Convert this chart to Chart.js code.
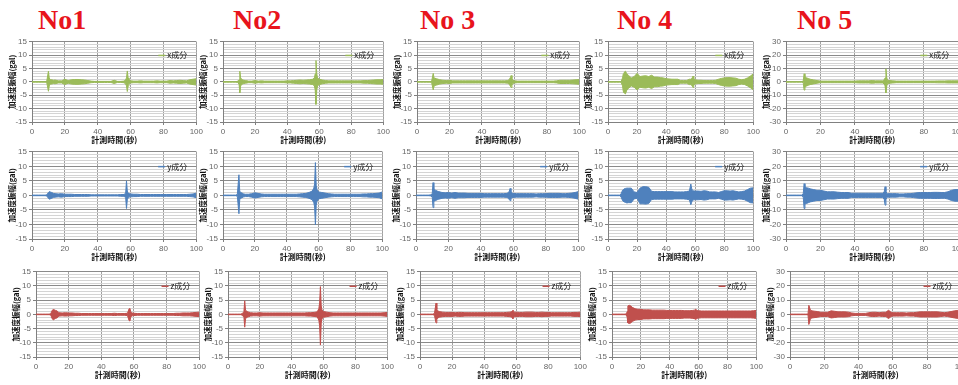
<!DOCTYPE html>
<html>
<head>
<meta charset="utf-8">
<script src="https://cdn.jsdelivr.net/npm/chart.js@4.4.1/dist/chart.umd.min.js"></script>
<style>
  body { margin: 0; background: #fff; width: 958px; height: 385px; overflow: hidden; position: relative; }
  .ttl { position: absolute; top: 4px; font: bold 28px "Liberation Serif", serif; color: #e8141c; white-space: pre; }
  canvas { position: absolute; }
</style>
</head>
<body>
<div class="ttl" style="left:38px">No1</div>
<div class="ttl" style="left:233px">No2</div>
<div class="ttl" style="left:420px">No 3</div>
<div class="ttl" style="left:617px">No 4</div>
<div class="ttl" style="left:797px">No 5</div>
<script>
// time points (s) at which the envelope of each record was read
const T = [0,2,4,6,8, 9,10,10.5,11,12,13,14,
  16,18,20,22,24,26,28,30,32,34,36,38,40,42,44,46,48,50,52,54,56,
  57,57.5,58,58.5,59,
  60,62,64,66,68,70,72,74,76,78,80,82,84,86,88,90,92,94,96,98,100];

// upper / lower envelope of each waveform (gal)
const no1x_top = [0.1,0.1,0.1,0.1,0.1, 0.3,4.0,1.5,0.8,0.8,0.6,0.7,
  0.4,0.4,1.0,0.5,0.8,0.9,0.9,0.8,0.7,0.5,0.3,0.2,0.2,0.2,0.2,0.2,0.2,0.6,0.2,0.2,0.3,
  0.8,1.5,4.1,1.5,0.6,
  0.4,0.3,0.3,0.4,0.3,0.3,0.3,0.3,0.4,0.3,0.3,0.3,0.5,0.4,0.5,0.6,0.5,0.4,0.8,1.0,1.2];
const no1x_bot = [-0.1,-0.1,-0.1,-0.1,-0.1, -0.3,-3.5,-1.5,-0.8,-0.8,-0.6,-0.7,
  -0.4,-0.4,-1.0,-0.5,-0.8,-0.9,-0.9,-0.8,-0.7,-0.5,-0.3,-0.2,-0.2,-0.2,-0.2,-0.2,-0.2,-0.6,-0.2,-0.2,-0.3,
  -0.8,-1.5,-3.6,-1.5,-0.6,
  -0.4,-0.3,-0.3,-0.4,-0.3,-0.3,-0.3,-0.3,-0.4,-0.3,-0.3,-0.3,-0.5,-0.4,-0.5,-0.6,-0.5,-0.4,-0.8,-1.0,-1.2];

const no1y_top = [0.1,0.1,0.1,0.1,0.1, 0.2,1.0,1.3,1.2,1.0,0.7,0.6,
  0.5,0.6,0.4,0.4,0.4,0.3,0.3,0.3,0.3,0.3,0.2,0.2,0.2,0.2,0.2,0.2,0.2,0.2,0.2,0.3,0.3,
  0.8,5.0,1.5,0.8,0.5,
  0.5,0.4,0.4,0.3,0.3,0.3,0.3,0.3,0.3,0.3,0.3,0.3,0.3,0.3,0.3,0.3,0.3,0.3,0.4,0.5,0.8];
const no1y_bot = [-0.1,-0.1,-0.1,-0.1,-0.1, -0.2,-1.0,-1.3,-1.2,-1.0,-0.7,-0.6,
  -0.5,-0.6,-0.4,-0.4,-0.4,-0.3,-0.3,-0.3,-0.3,-0.3,-0.2,-0.2,-0.2,-0.2,-0.2,-0.2,-0.2,-0.2,-0.2,-0.3,-0.3,
  -0.8,-4.5,-1.5,-0.8,-0.5,
  -0.5,-0.4,-0.4,-0.3,-0.3,-0.3,-0.3,-0.3,-0.3,-0.3,-0.3,-0.3,-0.3,-0.3,-0.3,-0.3,-0.3,-0.3,-0.4,-0.5,-0.8];

const no1z_top = [0.1,0.1,0.1,0.1,0.1, 0.2,1.5,1.7,1.6,1.4,1.2,0.6,
  0.5,0.6,0.5,0.5,0.4,0.4,0.3,0.3,0.3,0.3,0.3,0.3,0.3,0.3,0.3,0.3,0.4,0.3,0.3,0.3,0.4,
  2.0,2.1,1.0,0.6,0.5,
  0.4,0.3,0.3,0.3,0.3,0.3,0.3,0.3,0.3,0.3,0.3,0.3,0.3,0.4,0.4,0.5,0.5,0.5,0.6,0.7,0.8];
const no1z_bot = [-0.1,-0.1,-0.1,-0.1,-0.1, -0.2,-1.6,-1.9,-1.7,-1.4,-1.2,-0.6,
  -0.5,-0.6,-0.5,-0.5,-0.4,-0.4,-0.3,-0.3,-0.3,-0.3,-0.3,-0.3,-0.3,-0.3,-0.3,-0.3,-0.4,-0.3,-0.3,-0.3,-0.4,
  -2.2,-2.3,-1.0,-0.6,-0.5,
  -0.4,-0.3,-0.3,-0.3,-0.3,-0.3,-0.3,-0.3,-0.3,-0.3,-0.3,-0.3,-0.3,-0.4,-0.4,-0.5,-0.5,-0.5,-0.6,-0.7,-0.8];

const no2x_top = [0.1,0.1,0.1,0.1,0.1, 0.2,0.8,4.0,1.5,0.8,0.6,0.5,
  0.3,0.3,0.5,0.3,0.4,0.3,0.3,0.3,0.3,0.3,0.3,0.3,0.4,0.4,0.5,0.6,0.7,0.6,0.7,0.8,1.0,
  1.5,3.0,8.0,3.0,1.5,
  1.0,0.7,0.5,0.4,0.4,0.4,0.4,0.4,0.4,0.4,0.4,0.4,0.4,0.4,0.5,0.5,0.6,0.7,0.8,0.8,0.9];
const no2x_bot = [-0.1,-0.1,-0.1,-0.1,-0.1, -0.2,-0.8,-4.1,-1.5,-0.8,-0.6,-0.5,
  -0.3,-0.3,-0.5,-0.3,-0.4,-0.3,-0.3,-0.3,-0.3,-0.3,-0.3,-0.3,-0.4,-0.4,-0.5,-0.6,-0.7,-0.6,-0.7,-0.8,-1.0,
  -1.5,-3.0,-8.4,-3.0,-1.5,
  -1.0,-0.7,-0.5,-0.4,-0.4,-0.4,-0.4,-0.4,-0.4,-0.4,-0.4,-0.4,-0.4,-0.4,-0.5,-0.5,-0.6,-0.7,-0.8,-0.8,-0.9];

const no2y_top = [0.1,0.1,0.1,0.1,0.1, 0.3,7.1,1.5,1.0,0.8,0.5,0.4,
  0.4,0.6,0.9,0.7,0.5,0.4,0.4,0.4,0.4,0.4,0.4,0.4,0.4,0.4,0.4,0.4,0.5,0.6,0.7,1.0,1.5,
  2.5,4.0,11.3,3.5,2.0,
  1.2,1.0,0.8,0.6,0.5,0.4,0.4,0.4,0.4,0.4,0.4,0.4,0.4,0.4,0.5,0.5,0.6,0.6,0.7,0.8,1.2];
const no2y_bot = [-0.1,-0.1,-0.1,-0.1,-0.1, -0.3,-6.3,-1.5,-1.0,-0.8,-0.5,-0.4,
  -0.4,-0.6,-0.9,-0.7,-0.5,-0.4,-0.4,-0.4,-0.4,-0.4,-0.4,-0.4,-0.4,-0.4,-0.4,-0.4,-0.5,-0.6,-0.7,-1.0,-1.5,
  -2.5,-4.0,-10.1,-3.5,-2.0,
  -1.2,-1.0,-0.8,-0.6,-0.5,-0.4,-0.4,-0.4,-0.4,-0.4,-0.4,-0.4,-0.4,-0.4,-0.5,-0.5,-0.6,-0.6,-0.7,-0.8,-1.2];

const no2z_top = [0.1,0.1,0.1,0.1,0.1, 0.3,1.0,4.8,1.5,1.0,0.8,0.6,
  0.5,0.5,0.6,0.5,0.5,0.5,0.5,0.5,0.5,0.5,0.5,0.5,0.5,0.5,0.5,0.5,0.5,0.6,0.6,0.7,0.9,
  2.0,4.0,9.8,3.0,1.5,
  1.0,0.8,0.6,0.5,0.5,0.5,0.5,0.5,0.5,0.5,0.5,0.5,0.5,0.5,0.5,0.5,0.5,0.5,0.5,0.6,0.7];
const no2z_bot = [-0.1,-0.1,-0.1,-0.1,-0.1, -0.3,-1.0,-4.5,-1.5,-1.0,-0.8,-0.6,
  -0.5,-0.5,-0.6,-0.5,-0.5,-0.5,-0.5,-0.5,-0.5,-0.5,-0.5,-0.5,-0.5,-0.5,-0.5,-0.5,-0.5,-0.6,-0.6,-0.7,-0.9,
  -2.0,-4.0,-10.8,-3.0,-1.5,
  -1.0,-0.8,-0.6,-0.5,-0.5,-0.5,-0.5,-0.5,-0.5,-0.5,-0.5,-0.5,-0.5,-0.5,-0.5,-0.5,-0.5,-0.5,-0.5,-0.6,-0.7];

const no3x_top = [0.1,0.1,0.1,0.1,0.1, 0.2,3.2,1.5,1.3,1.2,1.0,0.8,
  0.6,0.5,0.6,0.4,0.4,0.4,0.4,0.4,0.4,0.4,0.4,0.4,0.4,0.4,0.4,0.4,0.4,0.4,0.4,0.4,0.5,
  1.0,1.6,2.4,1.2,0.6,
  0.4,0.3,0.3,0.3,0.3,0.3,0.3,0.3,0.3,0.3,0.3,0.3,0.3,0.4,0.6,0.6,0.6,0.6,0.7,0.8,0.9];
const no3x_bot = [-0.1,-0.1,-0.1,-0.1,-0.1, -0.2,-3.0,-1.5,-1.3,-1.2,-1.0,-0.8,
  -0.6,-0.5,-0.6,-0.4,-0.4,-0.4,-0.4,-0.4,-0.4,-0.4,-0.4,-0.4,-0.4,-0.4,-0.4,-0.4,-0.4,-0.4,-0.4,-0.4,-0.5,
  -1.0,-1.6,-2.1,-1.2,-0.6,
  -0.4,-0.3,-0.3,-0.3,-0.3,-0.3,-0.3,-0.3,-0.3,-0.3,-0.3,-0.3,-0.3,-0.4,-0.6,-0.6,-0.6,-0.6,-0.7,-0.8,-0.9];

const no3y_top = [0.1,0.1,0.1,0.1,0.1, 0.2,0.5,4.4,2.0,1.8,1.5,1.3,
  1.0,0.9,1.0,0.8,1.0,0.8,0.8,0.8,0.7,0.7,0.7,0.7,0.7,0.6,0.6,0.6,0.6,0.6,0.6,0.6,0.7,
  1.0,1.5,2.4,1.2,0.8,
  0.7,0.6,0.6,0.6,0.6,0.6,0.6,0.5,0.6,0.6,0.6,0.7,0.7,0.7,0.7,0.6,0.6,0.7,0.8,1.0,1.3];
const no3y_bot = [-0.1,-0.1,-0.1,-0.1,-0.1, -0.2,-0.5,-4.2,-2.0,-1.8,-1.5,-1.3,
  -1.0,-0.9,-1.0,-0.8,-1.0,-0.8,-0.8,-0.8,-0.7,-0.7,-0.7,-0.7,-0.7,-0.6,-0.6,-0.6,-0.6,-0.6,-0.6,-0.6,-0.7,
  -1.0,-1.5,-1.8,-1.2,-0.8,
  -0.7,-0.6,-0.6,-0.6,-0.6,-0.6,-0.6,-0.5,-0.6,-0.6,-0.6,-0.7,-0.7,-0.7,-0.7,-0.6,-0.6,-0.7,-0.8,-1.0,-1.3];

const no3z_top = [0.1,0.1,0.1,0.1,0.1, 0.3,4.0,1.8,1.3,1.0,0.9,0.8,
  0.7,0.7,0.7,0.6,0.7,0.7,0.6,0.6,0.6,0.6,0.6,0.6,0.6,0.6,0.6,0.6,0.6,0.6,0.6,0.7,0.8,
  0.9,1.2,1.5,1.0,0.8,
  0.8,0.7,0.7,0.8,0.8,0.8,0.7,0.7,0.8,0.7,0.7,0.6,0.6,0.6,0.6,0.6,0.6,0.6,0.7,0.7,0.8];
const no3z_bot = [-0.1,-0.1,-0.1,-0.1,-0.1, -0.3,-3.0,-1.8,-1.3,-1.0,-0.9,-0.8,
  -0.7,-0.7,-0.7,-0.6,-0.7,-0.7,-0.6,-0.6,-0.6,-0.6,-0.6,-0.6,-0.6,-0.6,-0.6,-0.6,-0.6,-0.6,-0.6,-0.7,-0.8,
  -0.9,-1.2,-1.5,-1.0,-0.8,
  -0.8,-0.7,-0.7,-0.8,-0.8,-0.8,-0.7,-0.7,-0.8,-0.7,-0.7,-0.6,-0.6,-0.6,-0.6,-0.6,-0.6,-0.6,-0.7,-0.7,-0.8];

const no4x_top = [0.1,0.1,0.1,0.1,0.1, 0.1,1.5,3.0,3.5,4.0,3.0,2.5,
  1.5,2.0,3.2,2.0,2.2,2.3,2.0,2.5,1.8,1.8,1.6,1.5,1.2,1.1,1.0,1.0,1.0,0.5,0.5,0.5,1.0,
  1.0,1.2,1.6,2.2,1.4,
  0.8,0.6,0.6,0.5,0.5,0.5,0.5,0.6,1.0,1.3,1.5,1.6,1.6,1.5,1.4,1.0,0.8,1.0,1.5,2.2,3.0];
const no4x_bot = [-0.1,-0.1,-0.1,-0.1,-0.1, -0.1,-1.5,-3.5,-4.0,-4.5,-3.0,-2.5,
  -1.5,-2.0,-3.0,-2.0,-2.2,-2.3,-2.0,-2.5,-1.8,-1.8,-1.6,-1.5,-1.2,-1.1,-1.0,-1.0,-1.0,-0.5,-0.5,-0.5,-1.0,
  -1.0,-1.2,-1.6,-2.1,-1.4,
  -0.8,-0.6,-0.6,-0.5,-0.5,-0.5,-0.5,-0.6,-1.0,-1.3,-1.5,-1.6,-1.6,-1.5,-1.4,-1.0,-0.8,-1.0,-1.5,-2.2,-3.0];

const no4y_top = [0.1,0.1,0.1,0.1,0.1, 0.5,1.8,2.0,2.2,2.4,2.5,2.5,
  2.5,1.2,1.0,2.5,3.0,3.0,2.8,1.4,1.3,1.3,1.3,1.3,1.3,1.3,1.3,1.2,1.2,1.2,1.2,1.3,1.5,
  3.9,2.5,1.8,1.6,1.5,
  1.5,1.5,1.4,1.6,1.5,1.2,1.2,1.2,1.0,1.3,1.6,1.6,1.5,1.6,1.4,1.2,1.3,1.5,2.0,2.5,2.6];
const no4y_bot = [-0.1,-0.1,-0.1,-0.1,-0.1, -0.5,-1.8,-2.0,-2.2,-2.4,-2.6,-2.5,
  -2.5,-1.2,-1.0,-2.9,-2.9,-3.0,-2.8,-1.4,-1.3,-1.3,-1.3,-1.3,-1.3,-1.3,-1.3,-1.2,-1.2,-1.2,-1.2,-1.3,-1.5,
  -3.2,-2.5,-1.8,-1.6,-1.5,
  -1.5,-1.5,-1.4,-1.6,-1.5,-1.2,-1.2,-1.2,-1.0,-1.3,-1.6,-1.6,-1.5,-1.6,-1.4,-1.2,-1.3,-1.5,-2.0,-2.5,-2.6];

const no4z_top = [0.1,0.1,0.1,0.1,0.1, 0.1,0.2,1.0,3.0,3.2,3.0,2.5,
  2.0,1.8,1.8,1.6,1.6,1.6,1.5,1.5,1.5,1.5,1.5,1.4,1.4,1.4,1.4,1.4,1.4,1.3,1.3,1.3,1.4,
  1.5,1.6,1.8,1.6,1.4,
  1.3,1.2,1.2,1.2,1.2,1.2,1.2,1.2,1.2,1.2,1.2,1.2,1.2,1.2,1.2,1.2,1.2,1.2,1.2,1.3,1.4];
const no4z_bot = [-0.1,-0.1,-0.1,-0.1,-0.1, -0.1,-0.2,-1.0,-3.0,-3.2,-3.0,-2.5,
  -2.0,-1.8,-1.8,-1.6,-1.6,-1.6,-1.5,-1.5,-1.5,-1.5,-1.5,-1.4,-1.4,-1.4,-1.4,-1.4,-1.4,-1.3,-1.3,-1.3,-1.4,
  -1.5,-1.6,-1.8,-1.6,-1.4,
  -1.3,-1.2,-1.2,-1.2,-1.2,-1.2,-1.2,-1.2,-1.2,-1.2,-1.2,-1.2,-1.2,-1.2,-1.2,-1.2,-1.2,-1.2,-1.2,-1.3,-1.4];

const no5x_top = [0.2,0.2,0.2,0.2,0.2, 0.2,0.5,6.1,4.0,3.0,2.5,2.0,
  1.5,1.0,0.6,0.6,0.6,0.6,0.6,0.6,0.6,0.6,0.6,0.6,0.6,0.8,0.8,0.8,0.8,1.0,0.8,0.8,0.8,
  1.5,3.0,9.8,3.0,1.2,
  1.0,0.8,0.6,0.6,0.6,0.6,0.6,0.6,0.6,0.6,0.6,0.6,0.6,0.6,0.7,0.7,0.7,0.8,0.8,0.8,0.8];
const no5x_bot = [-0.2,-0.2,-0.2,-0.2,-0.2, -0.2,-0.5,-6.1,-4.0,-3.0,-2.5,-2.0,
  -1.5,-1.0,-0.6,-0.6,-0.6,-0.6,-0.6,-0.6,-0.6,-0.6,-0.6,-0.6,-0.6,-0.8,-0.8,-0.8,-0.8,-1.0,-0.8,-0.8,-0.8,
  -1.5,-3.0,-8.3,-3.0,-1.2,
  -1.0,-0.8,-0.6,-0.6,-0.6,-0.6,-0.6,-0.6,-0.6,-0.6,-0.6,-0.6,-0.6,-0.6,-0.7,-0.7,-0.7,-0.8,-0.8,-0.8,-0.8];

const no5y_top = [0.2,0.2,0.2,0.2,0.2, 0.2,1.0,8.1,6.0,5.2,5.0,4.5,
  4.0,3.5,3.5,3.0,2.5,2.5,2.5,2.2,2.0,2.0,2.0,1.5,1.5,1.5,1.5,1.5,1.5,1.5,1.5,1.5,1.5,
  2.5,6.0,3.0,1.5,1.2,
  1.2,1.2,1.2,1.0,1.0,1.2,1.2,1.5,1.8,2.0,2.0,2.0,2.0,2.1,2.1,2.0,2.0,2.5,3.5,4.0,4.0];
const no5y_bot = [-0.2,-0.2,-0.2,-0.2,-0.2, -0.2,-1.0,-9.0,-6.0,-5.5,-5.0,-4.5,
  -4.0,-3.5,-3.5,-3.0,-2.5,-2.5,-2.5,-2.2,-2.0,-2.0,-2.0,-1.5,-1.5,-1.5,-1.5,-1.5,-1.5,-1.5,-1.5,-1.5,-1.5,
  -2.5,-6.7,-3.0,-1.5,-1.2,
  -1.2,-1.2,-1.2,-1.0,-1.0,-1.2,-1.2,-1.5,-1.8,-2.0,-2.0,-2.0,-2.0,-2.1,-2.1,-2.0,-2.0,-2.5,-3.5,-4.0,-4.0];

const no5z_top = [0.2,0.2,0.2,0.2,0.2, 0.2,0.2,0.3,6.4,2.8,2.5,2.3,
  2.0,1.5,1.5,1.5,2.5,2.2,1.8,1.8,1.8,1.6,1.0,0.7,0.7,0.7,0.7,1.2,1.5,1.5,1.2,1.5,1.5,
  2.5,2.9,2.5,2.0,1.5,
  1.2,1.2,1.2,1.2,1.0,1.2,1.2,1.5,1.8,1.8,1.8,1.8,1.8,1.8,1.5,1.2,1.5,2.0,2.5,2.8,3.0];
const no5z_bot = [-0.2,-0.2,-0.2,-0.2,-0.2, -0.2,-0.2,-0.3,-7.1,-2.8,-2.5,-2.3,
  -2.0,-1.5,-1.5,-1.5,-2.5,-2.2,-1.8,-1.8,-1.8,-1.6,-1.0,-0.7,-0.7,-0.7,-0.7,-1.2,-1.5,-1.5,-1.2,-1.5,-1.5,
  -2.5,-2.9,-2.5,-2.0,-1.5,
  -1.2,-1.2,-1.2,-1.2,-1.0,-1.2,-1.2,-1.5,-1.8,-1.8,-1.8,-1.8,-1.8,-1.8,-1.5,-1.2,-1.5,-2.0,-2.5,-2.8,-3.0];

const compNames = ['x成分', 'y成分', 'z成分'];
const compColors = ['#9bbb59', '#4f81bd', '#c0504d'];
const yLimits = [15, 15, 15, 15, 30];      // per station
const xTicks = [0, 20, 40, 60, 80, 100];

const records = [
  [[no1x_top, no1x_bot], [no2x_top, no2x_bot], [no3x_top, no3x_bot], [no4x_top, no4x_bot], [no5x_top, no5x_bot]],
  [[no1y_top, no1y_bot], [no2y_top, no2y_bot], [no3y_top, no3y_bot], [no4y_top, no4y_bot], [no5y_top, no5y_bot]],
  [[no1z_top, no1z_bot], [no2z_top, no2z_bot], [no3z_top, no3z_bot], [no4z_top, no4z_bot], [no5z_top, no5z_bot]]
];

// plot area boxes in the page: [left, right] per column, [top, bottom] per row
const colBox = [
  [[32, 197], [223, 384], [417, 580], [608, 754], [786, 959]],
  [[32, 197], [223, 383], [416, 579], [608, 754], [786, 959]],
  [[36, 200], [228, 388], [420, 581], [612, 757], [790, 962]]
];
const rowBox = [[41, 122], [151, 239], [271, 357]];
const Y_W = 32, X_H = 23, PAD_T = 6, PAD_R = 8;

// small legend drawn inside the plot, like the Excel original
const inlineLegend = {
  id: 'inlineLegend',
  afterDatasetsDraw(chart, args, opts) {
    const { ctx, chartArea: a } = chart;
    const y = a.top + (a.bottom - a.top) * 0.17;
    ctx.save();
    ctx.font = '8px "Noto Sans CJK JP"';
    const w = ctx.measureText(opts.text).width;
    const x2 = a.right - 9;
    ctx.fillStyle = '#222';
    ctx.textAlign = 'right';
    ctx.textBaseline = 'middle';
    ctx.fillText(opts.text, x2, y);
    ctx.strokeStyle = opts.color;
    ctx.lineWidth = 1.5;
    ctx.beginPath();
    ctx.moveTo(x2 - w - 9, y);
    ctx.lineTo(x2 - w - 2, y);
    ctx.stroke();
    ctx.restore();
  }
};

function drawRecord(row, col) {
  const [top, bot] = records[row][col];
  const [L, R] = colBox[row][col];
  const [Tp, B] = rowBox[row];
  const lim = yLimits[col];
  const major = lim / 3;
  const step = lim / 15;
  const color = compColors[row];

  const cv = document.createElement('canvas');
  cv.width = R - L + Y_W + PAD_R;
  cv.height = B - Tp + PAD_T + X_H;
  cv.style.left = (L - Y_W) + 'px';
  cv.style.top = (Tp - PAD_T) + 'px';
  document.body.appendChild(cv);

  const line = (vals, fill) => ({
    data: T.map((t, i) => ({ x: t, y: vals[i] })),
    borderColor: color,
    backgroundColor: color,
    borderWidth: 1,
    pointRadius: 0,
    tension: 0,
    fill: fill
  });

  new Chart(cv.getContext('2d'), {
    type: 'line',
    data: { datasets: [line(top, '+1'), line(bot, false)] },
    plugins: [inlineLegend],
    options: {
      responsive: false,
      animation: false,
      events: [],
      layout: { padding: { top: PAD_T, right: PAD_R, left: 0, bottom: 0 } },
      plugins: {
        legend: { display: false },
        tooltip: { enabled: false },
        inlineLegend: { text: compNames[row], color: color }
      },
      scales: {
        x: {
          type: 'linear',
          min: 0,
          max: 100,
          afterBuildTicks: s => { s.ticks = xTicks.map(v => ({ value: v })); },
          ticks: { font: { size: 8, family: 'Liberation Sans' }, color: '#666', padding: 2, maxRotation: 0, autoSkip: false },
          grid: { color: '#a0a0a0', tickLength: 3, tickColor: '#808080' },
          border: { color: '#808080' },
          title: {
            display: true,
            text: '計測時間(秒)',
            font: { size: 8, weight: 'bold', family: 'Noto Sans CJK JP' },
            color: '#111',
            padding: { top: 0, bottom: 0 }
          },
          afterFit: s => { s.height = X_H; }
        },
        y: {
          min: -lim,
          max: lim,
          ticks: {
            stepSize: step,
            autoSkip: false,
            callback: v => (v % major === 0 ? v : ''),
            font: { size: 8, family: 'Liberation Sans' },
            color: '#666',
            padding: 2
          },
          grid: {
            color: c => (c.tick && c.tick.value % major === 0 ? '#8a8a8a' : '#d4d4d4'),
            tickColor: c => (c.tick && c.tick.value % major === 0 ? '#808080' : 'rgba(0,0,0,0)'),
            tickLength: 3
          },
          border: { color: '#808080' },
          title: {
            display: true,
            text: '加速度振幅(gal)',
            font: { size: 7.5, weight: 'bold', family: 'Noto Sans CJK JP' },
            color: '#111',
            padding: { top: 8, bottom: 0 }
          },
          afterFit: s => { s.width = Y_W; }
        }
      }
    }
  });
}

for (let r = 0; r < 3; r++) {
  for (let c = 0; c < 5; c++) drawRecord(r, c);
}
</script>
</body>
</html>
